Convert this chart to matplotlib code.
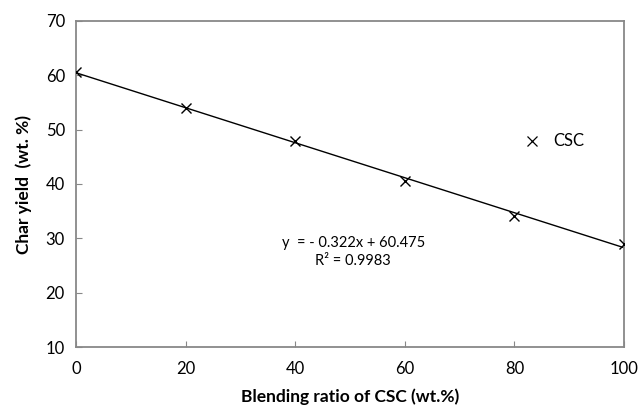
import numpy as np
import matplotlib
matplotlib.use("Agg")
import matplotlib.pyplot as plt

# Char yield vs blending ratio
blend_ratio = [0, 20, 40, 60, 80, 100]
char_yield = [60.7, 54.0, 47.9, 40.6, 34.2, 28.9]
slope = -0.322
intercept = 60.475
r2_text = "R² = 0.9983"
eq_text = "y  = - 0.322x + 60.475"

plt.rcParams['font.family'] = ['Lato', 'DejaVu Sans']

fig = plt.figure(figsize=(6.39, 4.07), dpi=100)
ax = fig.add_axes([76 / 639, 1 - 347 / 407, (624 - 76) / 639, (347 - 21) / 407])

# trend line from the fit
x_fit = np.array([0, 100])
ax.plot(x_fit, slope * x_fit + intercept, color="black", lw=1.0, zorder=2)
ax.plot(blend_ratio, char_yield, ls="none", marker="x", ms=7, mew=1.0,
        color="black", zorder=3)

ax.set_xlim(0, 100)
ax.set_ylim(10, 70)
ax.set_xticks(range(0, 101, 20))
ax.set_yticks(range(10, 71, 10))
ax.tick_params(direction="in", length=4, color="#888888", labelsize=12)
ax.tick_params(axis="x", pad=10)
ax.tick_params(axis="y", pad=8)

for s in ax.spines.values():
    s.set_color("#888888")
    s.set_linewidth(1.3)

ax.set_xlabel("Blending ratio of CSC (wt.%)", fontsize=12.5, fontweight="bold", labelpad=8)
ax.set_ylabel("Char yield  (wt. %)", fontsize=12.5, fontweight="bold", labelpad=10)

ax.text(0.506, 0.318, eq_text, transform=ax.transAxes, ha="center", va="center", fontsize=10.5)
ax.text(0.506, 0.263, r2_text, transform=ax.transAxes, ha="center", va="center", fontsize=10.5)

# legend entry
ax.plot([83.2], [48.0], ls="none", marker="x", ms=6.5, mew=0.9, color="black")
ax.text(87.0, 48.0, "CSC", ha="left", va="center", fontsize=12)

fig.savefig("out.png", dpi=100)
